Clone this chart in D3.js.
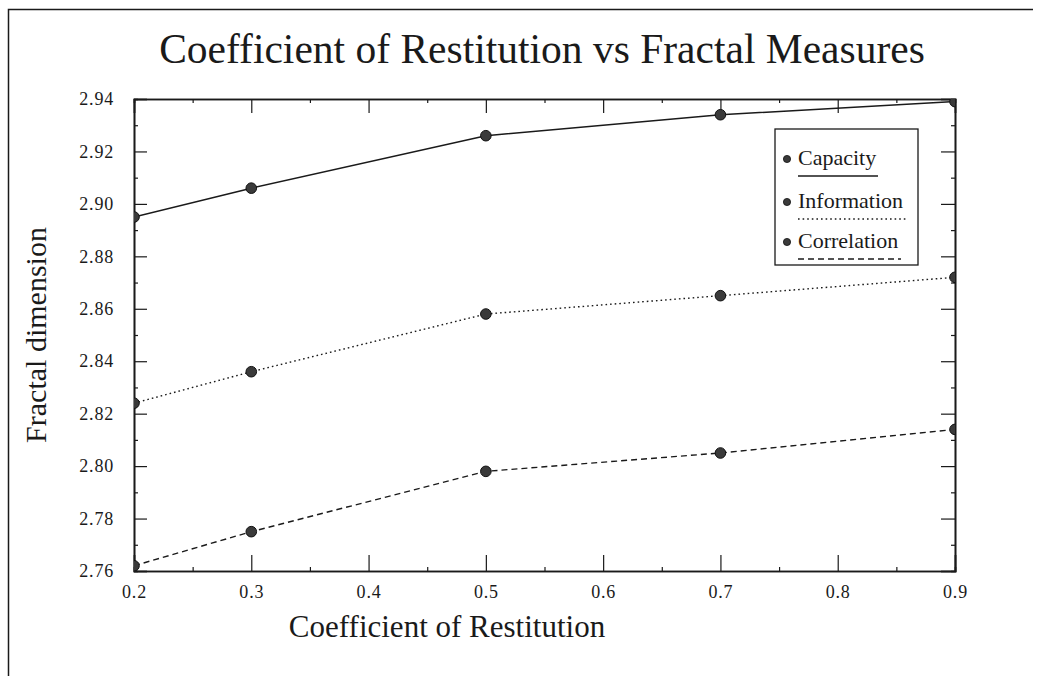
<!DOCTYPE html>
<html>
<head>
<meta charset="utf-8">
<script src="https://cdn.jsdelivr.net/npm/d3@7"></script>
<style>
  body { margin: 0; background: #fff; }
  svg { display: block; font-family: "Liberation Serif", "Times New Roman", serif; }
</style>
</head>
<body>
<svg id="chart" width="1039" height="676"></svg>
<script>
// data
const restitution = [0.2, 0.3, 0.5, 0.7, 0.9]
const capacity    = [2.895, 2.906, 2.926, 2.934, 2.939]
const information = [2.824, 2.836, 2.858, 2.865, 2.872]
const correlation = [2.762, 2.775, 2.798, 2.805, 2.814]

const seriesNames = ["Capacity", "Information", "Correlation"]
const xTicks = [0.2, 0.3, 0.4, 0.5, 0.6, 0.7, 0.8, 0.9]
const yTicks = [2.76, 2.78, 2.80, 2.82, 2.84, 2.86, 2.88, 2.90, 2.92, 2.94]

const ink = "#1a1a1a"
const dashes = { Capacity: null, Information: "1.6,3", Correlation: "6,4" }

const svg = d3.select("#chart")
const width = 1039, height = 676
const margin = { top: 99, right: 84, bottom: 105, left: 134 }

const x = d3.scaleLinear().domain([0.2, 0.9]).range([margin.left, width - margin.right])
const y = d3.scaleLinear().domain([2.76, 2.94]).range([height - margin.bottom, margin.top])

// outer frame (left + top only, like the scan)
svg.append("path")
  .attr("d", `M8.5,676 V9.5 H1033`)
  .attr("fill", "none").attr("stroke", ink).attr("stroke-width", 1.5)

// title
svg.append("text")
  .attr("x", 542).attr("y", 63)
  .attr("text-anchor", "middle")
  .attr("font-size", 41.5)
  .attr("fill", ink)
  .text("Coefficient of Restitution vs Fractal Measures")

svg.append("defs").append("clipPath").attr("id", "plot")
  .append("rect")
  .attr("x", margin.left).attr("y", margin.top)
  .attr("width", width - margin.left - margin.right)
  .attr("height", height - margin.top - margin.bottom)

// axes: inward major + minor ticks on all four sides
const xMinor = xTicks.slice(0, -1).map(v => +(v + 0.05).toFixed(2))
const yMinor = yTicks.slice(0, -1).map(v => +(v + 0.01).toFixed(2))
const bottomY = height - margin.bottom, rightX = width - margin.right

function styleAxis(g) {
  g.select(".domain").attr("stroke", ink).attr("stroke-width", 1.6)
  g.selectAll(".tick line").attr("stroke", ink).attr("stroke-width", 1.2)
  g.selectAll(".tick text").attr("fill", ink).attr("font-size", 18)
    .attr("letter-spacing", 0.8)
    .attr("font-family", "Liberation Serif, serif")
}

svg.append("g").attr("transform", `translate(0,${bottomY})`)
  .call(d3.axisBottom(x).tickValues(xTicks).tickSize(-16).tickPadding(14).tickFormat(d3.format(".1f")))
  .call(styleAxis)
svg.append("g").attr("transform", `translate(0,${bottomY})`)
  .call(d3.axisBottom(x).tickValues(xMinor).tickSize(-4).tickFormat(""))
  .call(styleAxis)
svg.append("g").attr("transform", `translate(0,${margin.top})`)
  .call(d3.axisTop(x).tickValues(xTicks).tickSize(-14).tickFormat(""))
  .call(styleAxis)
svg.append("g").attr("transform", `translate(0,${margin.top})`)
  .call(d3.axisTop(x).tickValues(xMinor).tickSize(-4).tickFormat(""))
  .call(styleAxis)

svg.append("g").attr("transform", `translate(${margin.left},0)`)
  .call(d3.axisLeft(y).tickValues(yTicks).tickSize(-13).tickPadding(20).tickFormat(d3.format(".2f")))
  .call(styleAxis)
svg.append("g").attr("transform", `translate(${margin.left},0)`)
  .call(d3.axisLeft(y).tickValues(yMinor).tickSize(-4).tickFormat(""))
  .call(styleAxis)
svg.append("g").attr("transform", `translate(${rightX},0)`)
  .call(d3.axisRight(y).tickValues(yTicks).tickSize(-14).tickFormat(""))
  .call(styleAxis)
svg.append("g").attr("transform", `translate(${rightX},0)`)
  .call(d3.axisRight(y).tickValues(yMinor).tickSize(-4).tickFormat(""))
  .call(styleAxis)

// axis titles
svg.append("text")
  .attr("x", 447).attr("y", 637)
  .attr("text-anchor", "middle").attr("font-size", 31).attr("fill", ink)
  .text("Coefficient of Restitution")

svg.append("text")
  .attr("transform", `translate(46,${(margin.top + bottomY) / 2}) rotate(-90)`)
  .attr("text-anchor", "middle").attr("font-size", 30).attr("fill", ink)
  .text("Fractal dimension")

// series
const series = [
  { name: "Capacity", values: capacity },
  { name: "Information", values: information },
  { name: "Correlation", values: correlation }
]

const line = d3.line()
  .x((d, i) => x(restitution[i]))
  .y(d => y(d))

const plot = svg.append("g").attr("clip-path", "url(#plot)")

series.forEach(s => {
  plot.append("path")
    .datum(s.values)
    .attr("fill", "none")
    .attr("stroke", ink)
    .attr("stroke-width", s.name === "Capacity" ? 1.5 : 1.4)
    .attr("stroke-dasharray", dashes[s.name])
    .attr("d", line)

  plot.selectAll(null)
    .data(s.values)
    .join("circle")
    .attr("cx", (d, i) => x(restitution[i]))
    .attr("cy", d => y(d))
    .attr("r", 5.3)
    .attr("fill", "#3a3a3a")
    .attr("stroke", "#111")
    .attr("stroke-width", 1)
})

// legend
const legend = svg.append("g").attr("transform", "translate(775,129)")
legend.append("rect")
  .attr("width", 143).attr("height", 136)
  .attr("fill", "#fff").attr("stroke", ink).attr("stroke-width", 1.3)

const rowY = [36, 79, 119]
const underlineW = { Capacity: 80, Information: 109, Correlation: 103 }
seriesNames.forEach((name, i) => {
  const row = legend.append("g").attr("transform", `translate(0,${rowY[i]})`)
  row.append("circle").attr("cx", 12).attr("cy", -6).attr("r", 3.6)
    .attr("fill", "#3a3a3a").attr("stroke", "#111").attr("stroke-width", 0.8)
  row.append("text").attr("x", 23).attr("y", 0)
    .attr("font-size", 22).attr("fill", ink).text(name)
  row.append("line")
    .attr("x1", 23).attr("x2", 23 + underlineW[name])
    .attr("y1", 11).attr("y2", 11)
    .attr("stroke", ink).attr("stroke-width", 1.3)
    .attr("stroke-dasharray", dashes[name])
})
</script>
</body>
</html>
